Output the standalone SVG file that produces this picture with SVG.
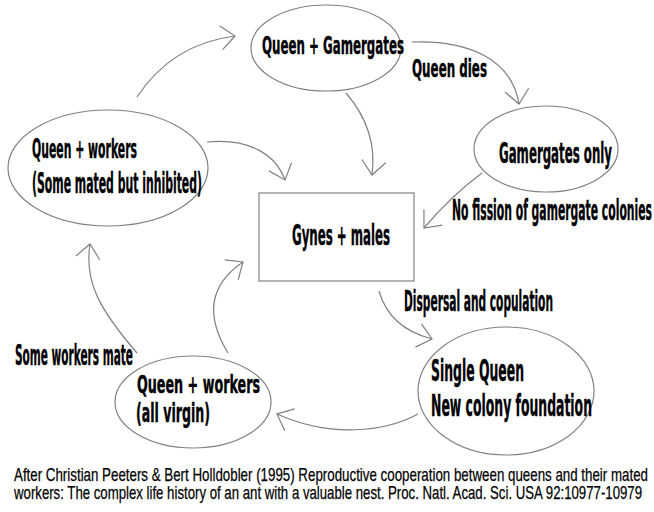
<svg xmlns="http://www.w3.org/2000/svg" width="654" height="512" viewBox="0 0 654 512">
<defs>
<marker id="arr" markerUnits="userSpaceOnUse" markerWidth="40" markerHeight="40" viewBox="-20 -20 40 40" refX="0" refY="0" orient="auto">
<path d="M-14,-12 L0,0 L-14,12" fill="none" stroke="#808080" stroke-width="1.2"/>
</marker>
</defs>
<style>
.shape{fill:#ffffff;stroke:#808080;stroke-width:1.2}
.lbl{font-family:"DejaVu Sans Condensed","DejaVu Sans",sans-serif;font-stretch:condensed;font-weight:bold;fill:#000000;stroke:#000000;stroke-width:0.4}
.conn path{fill:none;stroke:#808080;stroke-width:1.2;marker-end:url(#arr)}
.foot{font-family:"Liberation Sans",Arial,sans-serif;fill:#000000;font-size:19px;stroke:#000000;stroke-width:0.25}
</style>
<rect width="654" height="512" fill="#ffffff"/>
<g id="connectors" class="conn">
<path d="M137,97 Q172,44 235,36"/>
<path d="M412,42 C470,40 512,60 519,104"/>
<path d="M346,93 Q378,130 372,175"/>
<path d="M207,142 C250,138 276,155 285,180"/>
<path d="M482,173 Q452,195 424,228"/>
<path d="M379,291 C386,316 405,332 432,339"/>
<path d="M418,414 C385,432 330,438 277,414"/>
<path d="M228,353 C203,312 212,283 243,262"/>
<path d="M137,353 C100,310 84,282 90,244"/>
</g>
<g id="queen-gamergates">
<ellipse class="shape" cx="326" cy="48" rx="75" ry="43"/>
<text class="lbl" x="262" y="54" font-size="24" textLength="142" lengthAdjust="spacingAndGlyphs">Queen + Gamergates</text>
</g>
<g id="gamergates-only">
<ellipse class="shape" cx="546" cy="149" rx="72" ry="43"/>
<text class="lbl" x="499" y="163" font-size="28" textLength="113" lengthAdjust="spacingAndGlyphs">Gamergates only</text>
</g>
<g id="queen-workers-mated">
<ellipse class="shape" cx="108" cy="168" rx="100" ry="58"/>
<text class="lbl" x="32" y="158" font-size="26" textLength="105" lengthAdjust="spacingAndGlyphs">Queen + workers</text>
<text class="lbl" x="32" y="193" font-size="28" textLength="170" lengthAdjust="spacingAndGlyphs">(Some mated but inhibited)</text>
</g>
<g id="gynes-males">
<rect class="shape" x="259" y="193" width="155" height="88"/>
<text class="lbl" x="292" y="245" font-size="28" textLength="98" lengthAdjust="spacingAndGlyphs">Gynes + males</text>
</g>
<g id="queen-workers-virgin">
<ellipse class="shape" cx="193" cy="402" rx="78" ry="46"/>
<text class="lbl" x="137" y="393" font-size="24" textLength="123" lengthAdjust="spacingAndGlyphs">Queen + workers</text>
<text class="lbl" x="136" y="422" font-size="26" textLength="74" lengthAdjust="spacingAndGlyphs">(all virgin)</text>
</g>
<g id="single-queen">
<ellipse class="shape" cx="506" cy="391" rx="88" ry="64"/>
<text class="lbl" x="431" y="381" font-size="30" textLength="93" lengthAdjust="spacingAndGlyphs">Single Queen</text>
<text class="lbl" x="431" y="416" font-size="30" textLength="161" lengthAdjust="spacingAndGlyphs">New colony foundation</text>
</g>
<g id="labels">
<text class="lbl" x="412" y="77" font-size="24" textLength="75" lengthAdjust="spacingAndGlyphs">Queen dies</text>
<text class="lbl" x="452" y="220" font-size="28" textLength="200" lengthAdjust="spacingAndGlyphs">No fission of gamergate colonies</text>
<text class="lbl" x="404" y="311" font-size="28" textLength="149" lengthAdjust="spacingAndGlyphs">Dispersal and copulation</text>
<text class="lbl" x="15" y="365" font-size="29" textLength="118" lengthAdjust="spacingAndGlyphs">Some workers mate</text>
</g>
<g id="citation">
<text class="foot" x="14" y="481" textLength="634" lengthAdjust="spacingAndGlyphs">After Christian Peeters &amp; Bert Holldobler (1995) Reproductive cooperation between queens and their mated</text>
<text class="foot" x="14" y="499" textLength="628" lengthAdjust="spacingAndGlyphs">workers: The complex life history of an ant with a valuable nest. Proc. Natl. Acad. Sci. USA 92:10977-10979</text>
</g>
</svg>
